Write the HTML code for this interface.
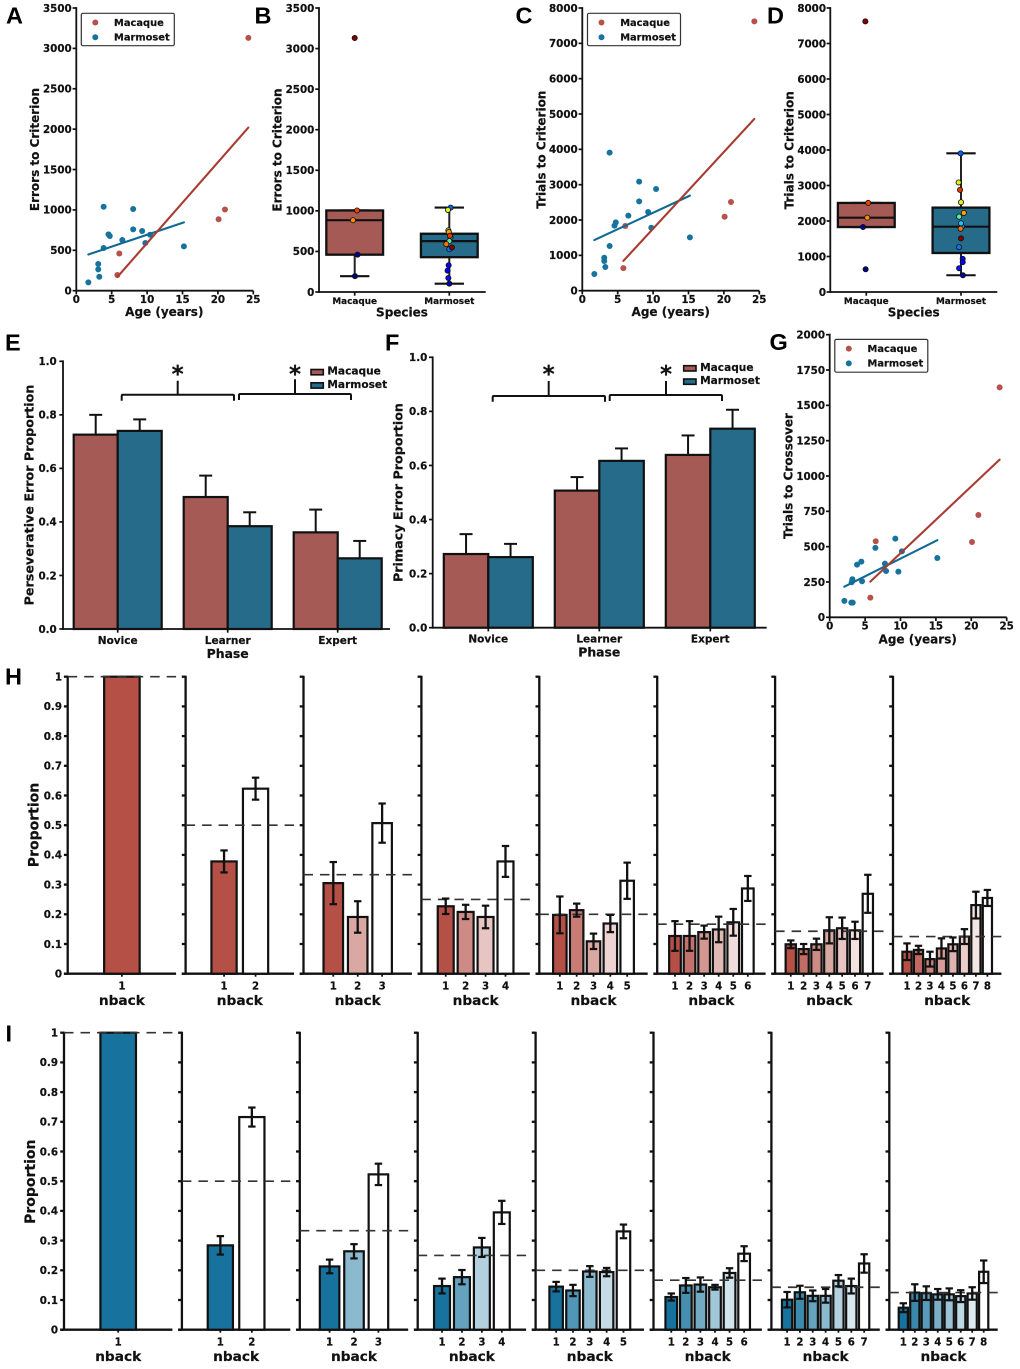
<!DOCTYPE html>
<html lang="en">
<head>
<meta charset="utf-8">
<title>Reversal learning figure</title>
<style>
html,body{margin:0;padding:0;background:#fff;}
#figure{display:block;width:1020px;height:1369px;filter:blur(0.35px);}
text{font-family:"DejaVu Sans","Liberation Sans",sans-serif;font-weight:bold;fill:#111;stroke:#111;stroke-width:.2px;}
.letter{font-family:"Liberation Sans",sans-serif;font-size:23.5px;fill:#000;stroke:none;}
</style>
</head>
<body>
<svg id="figure" xmlns="http://www.w3.org/2000/svg" width="1020" height="1369" viewBox="0 0 1020 1369">
<rect width="1020" height="1369" fill="#fff"/>
</svg>
<script>
/* ---------- data ---------- */
const macaqueAges = [5.8, 6.07, 20.1, 21, 24.3];
const marmosetAges = [1.7, 3.1, 3.1, 3.25, 3.86, 3.86, 4.55, 4.73, 6.5, 8.03, 8.03, 9.3, 9.75, 10.42, 15.2];
const macaqueErrors = [195, 460, 885, 1005, 3130];
const marmosetErrors = [103, 330, 264, 173, 1040, 528, 697, 677, 627, 1011, 759, 739, 590, 693, 549];
const macaqueTrials = [640, 1830, 2094, 2509, 7623];
const marmosetTrials = [472, 934, 840, 670, 3906, 1264, 1840, 1934, 2123, 3085, 2528, 2226, 1783, 2877, 1509];

const crossoverMacaqueAges = [5.74, 6.5, 20.1, 21, 24];
const crossoverMacaque = [139, 538, 533, 724, 1627];
const crossoverMarmosetAges = [2.07, 3.06, 3.25, 3.2, 3.1, 3.86, 4.47, 4.57, 6.45, 7.8, 7.96, 9.27, 9.7, 10.2, 15.2];
const crossoverMarmoset = [116, 104, 104, 269, 248, 373, 394, 255, 491, 380, 328, 557, 323, 467, 420];

/* strip-plot jitter, in category units */
const jitterErrorsMacaque = [0.003, 0.03, -0.018, 0.025, 0];
const jitterErrorsMarmoset = [0, -0.007, -0.018, -0.01, 0.014, 0, 0.007, 0.014, 0, -0.014, -0.01, -0.005, -0.032, 0.007, 0.028];
const jitterTrialsMacaque = [-0.007, -0.035, 0.01, 0.02, -0.01];
const jitterTrialsMarmoset = [0.02, 0.018, 0.018, -0.02, -0.004, -0.02, 0.01, 0, -0.02, -0.025, 0, 0.03, -0.004, -0.01, 0];

const phases = ['Novice', 'Learner', 'Expert'];
const perseverativeMacaque = [0.726, 0.493, 0.361];
const perseverativeMacaqueUpper = [0.800, 0.573, 0.446];
const perseverativeMarmoset = [0.740, 0.384, 0.264];
const perseverativeMarmosetUpper = [0.783, 0.436, 0.329];
const primacyMacaque = [0.2725, 0.507, 0.639];
const primacyMacaqueUpper = [0.346, 0.557, 0.711];
const primacyMarmoset = [0.261, 0.617, 0.736];
const primacyMarmosetUpper = [0.310, 0.663, 0.806];

const macaqueNback = [
  [1],
  [0.378, 0.623],
  [0.305, 0.191, 0.507],
  [0.227, 0.208, 0.191, 0.378],
  [0.198, 0.214, 0.109, 0.169, 0.313],
  [0.127, 0.127, 0.140, 0.149, 0.173, 0.287],
  [0.099, 0.083, 0.099, 0.146, 0.153, 0.146, 0.269],
  [0.074, 0.080, 0.049, 0.085, 0.099, 0.125, 0.231, 0.255]
];
const macaqueNbackErr = [
  [0],
  [0.037, 0.037],
  [0.071, 0.053, 0.066],
  [0.026, 0.024, 0.038, 0.052],
  [0.062, 0.022, 0.026, 0.029, 0.061],
  [0.050, 0.050, 0.022, 0.043, 0.045, 0.042],
  [0.013, 0.017, 0.019, 0.044, 0.036, 0.029, 0.064],
  [0.028, 0.014, 0.025, 0.034, 0.023, 0.025, 0.045, 0.027]
];
const marmosetNback = [
  [1],
  [0.284, 0.716],
  [0.213, 0.264, 0.523],
  [0.147, 0.177, 0.277, 0.395],
  [0.145, 0.132, 0.196, 0.194, 0.331],
  [0.110, 0.149, 0.152, 0.143, 0.191, 0.256],
  [0.101, 0.126, 0.114, 0.114, 0.165, 0.147, 0.223],
  [0.074, 0.125, 0.123, 0.119, 0.119, 0.113, 0.122, 0.195]
];
const marmosetNbackErr = [
  [0],
  [0.031, 0.032],
  [0.023, 0.024, 0.036],
  [0.025, 0.024, 0.032, 0.039],
  [0.016, 0.019, 0.018, 0.014, 0.023],
  [0.012, 0.025, 0.024, 0.008, 0.016, 0.025],
  [0.026, 0.022, 0.018, 0.023, 0.019, 0.025, 0.031],
  [0.015, 0.028, 0.023, 0.018, 0.020, 0.020, 0.021, 0.038]
];
const proportionTicks = ['0', '0.1', '0.2', '0.3', '0.4', '0.5', '0.6', '0.7', '0.8', '0.9', '1'];
const ageTicks = [0, 5, 10, 15, 20, 25];
const errorTicks = [0, 500, 1000, 1500, 2000, 2500, 3000, 3500];
const trialTicks = [0, 1000, 2000, 3000, 4000, 5000, 6000, 7000, 8000];
const crossoverTicks = [0, 250, 500, 750, 1000, 1250, 1500, 1750, 2000];
const fractionTicks = ['0.0', '0.2', '0.4', '0.6', '0.8', '1.0'];

/* separate style palettes */
const MAC = '#b5524a', MAR = '#17739d', MAC_LINE = '#a83c33', MAR_LINE = '#0f6a96';
const MAC_BOX = '#a65a55', MAR_BOX = '#266b8a', RED_BASE = '#b55047', BLUE_BASE = '#17739d';
const macaqueSubjectColors = ['#000080', '#000090', '#ff8c00', '#f04000', '#800000'];
const marmosetSubjectColors = ['#0000a0', '#0000ff', '#0000ff', '#0010ff', '#0060ff', '#1070ff', '#00a0ff', '#20c0ff', '#50f0a0', '#e0f020', '#e8f020', '#ffa000', '#ff7000', '#f03000', '#800000'];

/* ---------- helpers ---------- */
const NS = 'http://www.w3.org/2000/svg';
const svg = document.getElementById('figure');
function mk(parent, tag, name, props) {
  const e = document.createElementNS(NS, tag);
  
  
  for (const k in props) e.setAttribute(k, props[k]);
  parent.appendChild(e);
  return e;
}
function line(p, name, x1, y1, x2, y2, color, w, extra) {
  return mk(p, 'line', name, Object.assign({x1, y1, x2, y2, stroke: color, 'stroke-width': w}, extra || {}));
}
function label(p, name, s, x, y, size, anchor, rot) {
  const props = {x, y, 'font-size': size, 'text-anchor': anchor || 'middle'};
  if (rot) props.transform = 'rotate(-90 ' + x + ' ' + y + ')';
  const t = mk(p, 'text', name, props);
  t.textContent = s;
  return t;
}
function scale(d0, d1, r0, r1) { return v => r0 + (v - d0) / (d1 - d0) * (r1 - r0); }
function fit(xs, ys) {
  const n = xs.length, mx = xs.reduce((a, b) => a + b, 0) / n, my = ys.reduce((a, b) => a + b, 0) / n;
  let sxx = 0, sxy = 0;
  xs.forEach((x, i) => { sxx += (x - mx) * (x - mx); sxy += (x - mx) * (ys[i] - my); });
  const b = sxy / sxx;
  return x => my + b * (x - mx);
}
function quantile(sorted, q) {
  const p = (sorted.length - 1) * q, lo = Math.floor(p), hi = Math.ceil(p);
  return sorted[lo] + (sorted[hi] - sorted[lo]) * (p - lo);
}
function mix(hex, t) {
  const c = [1, 3, 5].map(i => parseInt(hex.substr(i, 2), 16));
  return 'rgb(' + c.map(v => Math.round(v + (255 - v) * t)).join(',') + ')';
}
function letter(s, x, y) {
  const t = label(svg, 'panel-label-' + s.toLowerCase(), s, x, y, 23.5, 'start');
  t.setAttribute('class', 'letter');
}
function axes(g, b) {
  const ax = mk(g, 'g', 'axes', {});
  line(ax, 'y-axis-line', b.x0, b.y0 + 0.9, b.x0, b.y1 - 0.9, '#111', 1.8);
  line(ax, 'x-axis-line', b.x0 - 0.9, b.y0, b.x1, b.y0, '#111', 1.8);
  return ax;
}
function yTicks(ax, b, ticks, sy, size) {
  ticks.forEach(t => {
    const v = +t, y = sy(v);
    line(ax, 'y-tick', b.x0 - 3.7, y, b.x0, y, '#111', 1.7);
    label(ax, 'y-tick-label', String(t), b.tickRight, y + 3.8, size || 10.3, 'end');
  });
}

function legendBox(g, x, y, w, h) {
  return mk(g, 'rect', 'legend-frame', {x, y, width: w, height: h, rx: 1.5, fill: '#fff', stroke: '#333', 'stroke-width': 1.2});
}

/* ---------- scatter panels ---------- */
function scatterPanel(name, b, ticks, macX, macY, marX, marY, ylabel, lg) {
  const g = mk(svg, 'g', name, {});
  const sx = scale(0, 25, b.x0, b.x1), sy = scale(0, ticks[ticks.length - 1], b.y0, b.y1);
  const ax = axes(g, b);
  ageTicks.forEach(t => {
    line(ax, 'x-tick', sx(t), b.y0, sx(t), b.y0 + 3.7, '#111', 1.7);
    label(ax, 'x-tick-label', String(t), sx(t), b.y0 + 12.2, 10.3);
  });
  yTicks(ax, b, ticks, sy);
  label(ax, 'x-axis-title', 'Age (years)', b.xTitleX, b.xTitleY, 12);
  label(ax, 'y-axis-title', ylabel, b.yTitleX, b.yTitleY, 12, 'middle', true);

  [[marX, marY, MAR, 'marmoset'], [macX, macY, MAC, 'macaque']].forEach(s => {
    s[0].forEach((x, i) => {
      mk(g, 'circle', s[3] + '-point', {cx: sx(x), cy: sy(s[1][i]), r: 3, fill: s[2]});
    });
  });
  [[marX, marY, MAR_LINE, 'marmoset'], [macX, macY, MAC_LINE, 'macaque']].forEach(s => {
    const f = fit(s[0], s[1]), xa = Math.min(...s[0]), xb = Math.max(...s[0]);
    line(g, s[3] + '-fit-line', sx(xa), sy(f(xa)), sx(xb), sy(f(xb)), s[2], 2.1, {'stroke-linecap': 'round'});
  });
  const lgG = mk(g, 'g', 'legend', {});
  legendBox(lgG, lg.x, lg.y, 93, lg.h);
  mk(lgG, 'circle', 'legend-marker-macaque', {cx: lg.x + 14, cy: lg.y + 9.2, r: 3, fill: MAC});
  mk(lgG, 'circle', 'legend-marker-marmoset', {cx: lg.x + 14, cy: lg.y + 24, r: 3, fill: MAR});
  label(lgG, 'legend-label-macaque', 'Macaque', lg.x + 32.7, lg.y + 12.5, 9.9, 'start');
  label(lgG, 'legend-label-marmoset', 'Marmoset', lg.x + 32.7, lg.y + 27.3, 9.9, 'start');
}

/* ---------- box panels ---------- */
function boxPanel(name, b, ticks, macY, marY, macJ, marJ, ylabel) {
  const g = mk(svg, 'g', name, {});
  const sy = scale(0, ticks[ticks.length - 1], b.y0, b.y1);
  const sx = scale(0, 1, b.c0, b.c1), unit = b.c1 - b.c0;
  const ax = axes(g, b);
  yTicks(ax, b, ticks, sy);
  ['Macaque', 'Marmoset'].forEach((c, i) => {
    line(ax, 'x-tick', sx(i), b.y0, sx(i), b.y0 + 3.7, '#111', 1.7);
    label(ax, 'x-tick-label', c, sx(i), b.y0 + 12, 8.9);
  });
  label(ax, 'x-axis-title', 'Species', b.xTitleX, b.xTitleY, 12);
  label(ax, 'y-axis-title', ylabel, b.yTitleX, b.yTitleY, 12, 'middle', true);

  [[macY, MAC_BOX, macJ, macaqueSubjectColors, 'macaque'], [marY, MAR_BOX, marJ, marmosetSubjectColors, 'marmoset']].forEach((s, i) => {
    const sorted = s[0].slice().sort((p, q) => p - q);
    const q1 = quantile(sorted, .25), q2 = quantile(sorted, .5), q3 = quantile(sorted, .75), iqr = q3 - q1;
    const inside = sorted.filter(v => v >= q1 - 1.5 * iqr && v <= q3 + 1.5 * iqr);
    const lo = inside[0], hi = inside[inside.length - 1];
    const c = sx(i), hw = unit * .3, cap = unit * .155;
    const bg = mk(g, 'g', s[4] + '-box', {});
    line(bg, 'whisker', c, sy(hi), c, sy(q3), '#222', 2);
    line(bg, 'whisker', c, sy(q1), c, sy(lo), '#222', 2);
    line(bg, 'whisker-cap', c - cap, sy(hi), c + cap, sy(hi), '#111', 2.1);
    line(bg, 'whisker-cap', c - cap, sy(lo), c + cap, sy(lo), '#111', 2.1);
    mk(bg, 'rect', 'box-body', {x: c - hw, y: sy(q3), width: 2 * hw, height: sy(q1) - sy(q3), fill: s[1], stroke: '#111', 'stroke-width': 2.3});
    line(bg, 'median-line', c - hw, sy(q2), c + hw, sy(q2), '#111', 2.2);
    s[0].forEach((v, k) => {
      mk(g, 'circle', s[4] + '-subject-point', {cx: c + s[2][k] * unit, cy: sy(v), r: 2.6, fill: s[3][k], stroke: '#111', 'stroke-width': .8});
    });
  });
}

/* ---------- grouped bars ---------- */
function bracket(g, xa, xb, y, end, stemX, stemTop, starY) {
  const b = mk(g, 'path', 'significance-bracket', {
    d: 'M' + xa + ' ' + end + 'V' + (y + 1.2) + 'Q' + xa + ' ' + y + ' ' + (xa + 1.2) + ' ' + y + 'H' + (xb - 1.2) + 'Q' + xb + ' ' + y + ' ' + xb + ' ' + (y + 1.2) + 'V' + end +
       'M' + stemX + ' ' + y + 'V' + stemTop,
    fill: 'none', stroke: '#111', 'stroke-width': 2});
  label(g, 'significance-star', '*', stemX, starY, 23);
  return b;
}
function barPanel(name, b, mac, macU, mar, marU, ylabel, lg, br) {
  const g = mk(svg, 'g', name, {});
  const sy = scale(0, 1, b.y0, b.y1), cx = i => b.c0 + i * b.step, w = b.bar;
  const ax = axes(g, b);
  yTicks(ax, b, fractionTicks, sy);
  phases.forEach((p, i) => {
    line(ax, 'x-tick', cx(i), b.y0, cx(i), b.y0 + 3.7, '#111', 1.7);
    label(ax, 'x-tick-label', p, cx(i), b.y0 + 15, 10.5);
  });
  label(ax, 'x-axis-title', 'Phase', cx(1), b.y0 + 29, 12.4);
  label(ax, 'y-axis-title', ylabel, b.yTitleX, b.yTitleY, 12.7, 'middle', true);
  [[mac, macU, MAC_BOX, -1, 'macaque'], [mar, marU, MAR_BOX, 0, 'marmoset']].forEach(s => {
    s[0].forEach((v, i) => {
      const x = cx(i) + s[3] * w, mid = x + w / 2;
      line(g, s[4] + '-error-bar', mid, sy(s[1][i]), mid, sy(v), '#111', 2);
      line(g, s[4] + '-error-cap', mid - 6.5, sy(s[1][i]), mid + 6.5, sy(s[1][i]), '#111', 2);
      mk(g, 'rect', s[4] + '-bar-' + phases[i].toLowerCase(), {x, y: sy(v), width: w, height: b.y0 - sy(v), fill: s[2], stroke: '#111', 'stroke-width': 2.2});
    });
  });
  br.forEach(r => bracket(g, r[0], r[1], r[2], r[3], r[4], r[5], r[6]));
  const lgG = mk(g, 'g', 'legend', {});
  [['Macaque', MAC_BOX, 0], ['Marmoset', MAR_BOX, 1]].forEach(s => {
    const y = lg.y + s[2] * lg.dy;
    mk(lgG, 'rect', 'legend-patch-' + s[0].toLowerCase(), {x: lg.x, y, width: 12.3, height: 5.3, fill: s[1], stroke: '#111', 'stroke-width': 1.6});
    label(lgG, 'legend-label-' + s[0].toLowerCase(), s[0], lg.x + 16.4, y + 5.2, 10.6, 'start');
  });
}

/* ---------- nback rows ---------- */
function nbackRow(name, x0, y0, y1, values, errs, base, tickRight, yTitleX, yTitleY) {
  const row = mk(svg, 'g', name, {});
  const sy = scale(0, 1, y0, y1), W = 108.4;
  values.forEach((vals, idx) => {
    const n = vals.length, ox = x0 + idx * 117.9;
    const g = mk(row, 'g', 'nback-subplot-' + n, {});
    const unit = W / (n + 1.44), cx = i => ox + W / 2 + (i - (n - 1) / 2) * unit;
    line(g, 'x-axis-line', ox - 3.8, y0, ox + W, y0, '#111', 2.3);
    line(g, 'y-axis-line', ox, y1 - 1, ox, y0, '#111', 2.3);
    proportionTicks.forEach(t => {
      line(g, 'y-tick', ox - 3.8, sy(+t), ox, sy(+t), '#111', 2.3);
      if (idx === 0) label(g, 'y-tick-label', t, tickRight, sy(+t) + 3.8, 10.3, 'end');
    });
    vals.forEach((v, i) => {
      const t = n > 1 ? i / (n - 1) : 0, w = unit * .8;
      mk(g, 'rect', 'bar-nback-' + (i + 1), {x: cx(i) - w / 2, y: sy(v), width: w, height: y0 - sy(v), fill: mix(base, t), stroke: '#111', 'stroke-width': 2.2});
    });
    line(g, 'chance-line', ox, sy(1 / n), ox + W, sy(1 / n), '#333', 1.7, {'stroke-dasharray': '9.5 7'});
    vals.forEach((v, i) => {
      const e = errs[idx][i];
      if (e > 0) {
        line(g, 'error-bar', cx(i), sy(v + e), cx(i), sy(v - e), '#111', 2.3);
        line(g, 'error-cap', cx(i) - 3.7, sy(v + e), cx(i) + 3.7, sy(v + e), '#111', 2.2);
        line(g, 'error-cap', cx(i) - 3.7, sy(v - e), cx(i) + 3.7, sy(v - e), '#111', 2.2);
      }
      line(g, 'x-tick', cx(i), y0, cx(i), y0 + 3, '#111', 1.8);
      label(g, 'x-tick-label', String(i + 1), cx(i), y0 + 15.7, 10.2);
    });
    label(g, 'x-axis-title', 'nback', ox + W / 2, y0 + 31.2, 13.7);
  });
  label(row, 'y-axis-title', 'Proportion', yTitleX, yTitleY, 14, 'middle', true);
}

/* ---------- build ---------- */
scatterPanel('panel-a-errors-vs-age',
  {x0: 76.3, x1: 253.3, y0: 290.7, y1: 8, tickRight: 71.7, xTitleX: 164.3, xTitleY: 316, yTitleX: 39, yTitleY: 149.5},
  errorTicks, macaqueAges, macaqueErrors, marmosetAges, marmosetErrors, 'Errors to Criterion', {x: 81.3, y: 13.3, h: 32.4});
boxPanel('panel-b-errors-by-species',
  {x0: 319, x1: 485.7, y0: 292, y1: 8, tickRight: 314.3, c0: 354.7, c1: 449.3, xTitleX: 402, xTitleY: 316.7, yTitleX: 281.7, yTitleY: 150},
  errorTicks, macaqueErrors, marmosetErrors, jitterErrorsMacaque, jitterErrorsMarmoset, 'Errors to Criterion');
scatterPanel('panel-c-trials-vs-age',
  {x0: 582.3, x1: 759.3, y0: 290.7, y1: 8, tickRight: 577.7, xTitleX: 670.7, xTitleY: 316, yTitleX: 545.3, yTitleY: 149.7},
  trialTicks, macaqueAges, macaqueTrials, marmosetAges, marmosetTrials, 'Trials to Criterion', {x: 587.5, y: 13.3, h: 32.4});
boxPanel('panel-d-trials-by-species',
  {x0: 830.3, x1: 997.3, y0: 292, y1: 8, tickRight: 826, c0: 866.3, c1: 961, xTitleX: 913.7, xTitleY: 316.7, yTitleX: 793.3, yTitleY: 150.3},
  trialTicks, macaqueTrials, marmosetTrials, jitterTrialsMacaque, jitterTrialsMarmoset, 'Trials to Criterion');
barPanel('panel-e-perseverative-error',
  {x0: 63, x1: 390, y0: 629, y1: 361.3, tickRight: 56.7, c0: 117.7, step: 110, bar: 44, yTitleX: 33.7, yTitleY: 495},
  perseverativeMacaque, perseverativeMacaqueUpper, perseverativeMarmoset, perseverativeMarmosetUpper, 'Perseverative Error Proportion',
  {x: 311, y: 369.5, dy: 13.3},
  [[121.7, 234, 394.8, 400.7, 177.7, 380.7, 382], [239, 351, 394, 400, 295, 379.3, 382]]);
barPanel('panel-f-primacy-error',
  {x0: 432.7, x1: 766.7, y0: 627.7, y1: 357.3, tickRight: 427.3, c0: 488.3, step: 111, bar: 44.5, yTitleX: 402.7, yTitleY: 492.5},
  primacyMacaque, primacyMacaqueUpper, primacyMarmoset, primacyMarmosetUpper, 'Primacy Error Proportion',
  {x: 683.7, y: 365.7, dy: 13.3},
  [[492.7, 605, 396, 401.7, 548.7, 381, 382], [609.7, 722, 395, 401, 666, 381, 382]]);
scatterPanel('panel-g-crossover-vs-age',
  {x0: 829.7, x1: 1006.7, y0: 617.3, y1: 334.7, tickRight: 825, xTitleX: 917.7, xTitleY: 643.3, yTitleX: 792.7, yTitleY: 476},
  crossoverTicks, crossoverMacaqueAges, crossoverMacaque, crossoverMarmosetAges, crossoverMarmoset, 'Trials to Crossover', {x: 834.8, y: 339.4, h: 32.8});
nbackRow('panel-h-macaque-nback', 67.7, 973.7, 676.7, macaqueNback, macaqueNbackErr, RED_BASE, 62, 38.3, 825);
nbackRow('panel-i-marmoset-nback', 64, 1329.7, 1032.7, marmosetNback, marmosetNbackErr, BLUE_BASE, 58, 35, 1181.7);

letter('A', 6, 23.3);
letter('B', 254.5, 23.3);
letter('C', 515.5, 23.3);
letter('D', 767, 23.3);
letter('E', 5, 350.7);
letter('F', 385, 350.7);
letter('G', 769.5, 350);
letter('H', 5, 684.3);
letter('I', 5.5, 1041.7);
</script>
</body>
</html>
